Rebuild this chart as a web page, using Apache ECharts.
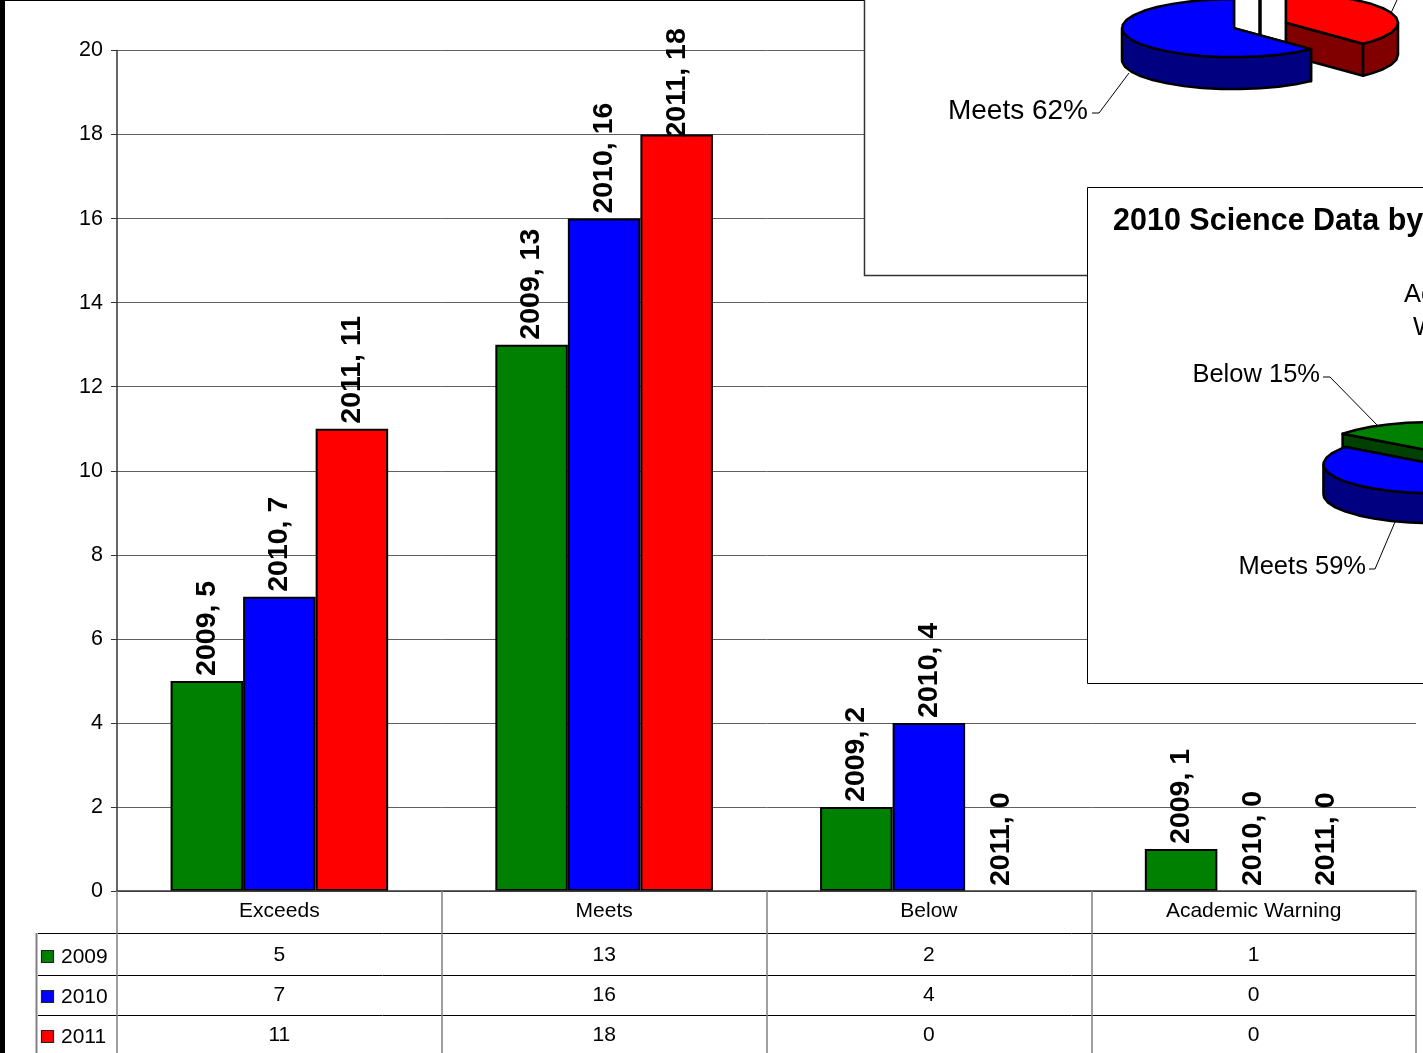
<!DOCTYPE html>
<html><head><meta charset="utf-8">
<script src="https://cdn.jsdelivr.net/npm/echarts@6/dist/echarts.min.js"></script>
<style>html,body{margin:0;padding:0;background:#fff;overflow:hidden}#c{width:1423px;height:1053px}</style>
</head><body><div id="c"></div>
<script>
const categories = ['Exceeds','Meets','Below','Academic Warning'];
const values2009 = [5,13,2,1];
const values2010 = [7,16,4,0];
const values2011 = [11,18,0,0];
const yearNames = ['2009','2010','2011'];
const yearColors = ['#008000','#0000FF','#FF0000'];
const tableRows = [values2009,values2010,values2011];
const pieColors = ['#FF0000','#0000FF','#008000','#FFFF00'];
const pieDark = ['#800000','#000080','#004000','#808000'];

const FONT = '"Liberation Sans", Arial, sans-serif';
const G = {left:117,right:1416,top:50.5,bottom:891};

function slicesOf(values){
  const total = values.reduce((a,b)=>a+b,0);
  let acc = 0;
  return values.map(v=>{
    const s = acc/total*360; acc += v; const e = acc/total*360;
    return {v,s,e,mid:(s+e)/2,pct:Math.round(v/total*100)};
  });
}
function pieSeries(cfg, z){
  const sl = slicesOf(cfg.values);
  const rad = d=>d*Math.PI/180;
  return {
    type:'custom', coordinateSystem:'none', silent:true, z, animation:false,
    data: cfg.values.map(v=>[v]),
    renderItem(params, api){
      const i = params.dataIndex; const v = api.value(0); const q = sl[i];
      const cx = cfg.cx + Math.sin(rad(q.mid))*cfg.explode*cfg.rx;
      const cy = cfg.cy - Math.cos(rad(q.mid))*cfg.explode*cfg.ry;
      const P = (d,dz=0)=>[cx+Math.sin(rad(d))*cfg.rx, cy-Math.cos(rad(d))*cfg.ry+dz];
      const A = (dz=0)=>[cx,cy+dz];
      const kids = [];
      const depth = v===0 ? -100 : -Math.cos(rad(q.mid))*100;
      const poly = (points,fill,lw=2.5)=>kids.push({type:'polygon',z2:depth,shape:{points},style:{fill,stroke:'#000',lineWidth:lw,lineJoin:'round'}});
      const th = cfg.thick;
      if(v===0){
        poly([A(),P(q.s),P(q.s,th),A(th)],'#000',3);
      } else {
        poly([A(),P(q.s),P(q.s,th),A(th)],pieDark[i]);
        poly([A(),P(q.e),P(q.e,th),A(th)],pieDark[i]);
        const a = Math.max(q.s,90), b = Math.min(q.e,270);
        if(b>a){
          const up=[],dn=[];
          for(let d=a;d<b;d+=10){up.push(P(d));dn.unshift(P(d,th));}
          up.push(P(b));dn.unshift(P(b,th));
          poly(up.concat(dn),pieDark[i]);
        }
        const top=[A()];
        for(let d=q.s;d<q.e;d+=10) top.push(P(d));
        top.push(P(q.e));
        poly(top,pieColors[i]);
      }
      const lab = cfg.labels[i];
      if(lab){
        if(lab.leader) kids.push({type:'polyline',z2:depth+1,shape:{points:lab.leader},style:{fill:null,stroke:'#000',lineWidth:1}});
        if(lab.text) kids.push({type:'text',z2:depth+1,style:{x:lab.x,y:lab.y,text:lab.text(q.pct),font:cfg.fontSize+'px '+FONT,align:lab.align,verticalAlign:'middle',lineHeight:33,fill:'#000'}});
      }
      return {type:'group',children:kids};
    }
  };
}
const pie2011 = {values:values2011,cx:1260,cy:25.4,rx:112,ry:29,thick:32,explode:0.25,fontSize:28,labels:[
  {leader:[[1391,13],[1397,0]]},
  {x:1088,y:111,align:'right',text:p=>'Meets '+p+'%',leader:[[1092,113],[1099,113],[1129,73]]},
  null,null]};
const pie2010 = {values:values2010,cx:1445,cy:457.5,rx:112,ry:29,thick:30,explode:0.25,fontSize:25.5,labels:[
  null,
  {x:1366,y:567,align:'right',text:p=>'Meets '+p+'%',leader:[[1369,569],[1375,569],[1395,522]]},
  {x:1320,y:375,align:'right',text:p=>'Below '+p+'%',leader:[[1323,377],[1330,377],[1379,427]]},
  {x:1460,y:311,align:'center',text:p=>'Academic\nWarning'}]};

const LABEL_GAP = 8, LABEL_GAP_TALLEST = 0;
const barSeries = yearNames.map((n,k)=>({
  name:n,type:'bar',barGap:0,barCategoryGap:'33%',z:2,
  data:tableRows[k].map(v=>({
    value:v,
    itemStyle:v===0?{borderWidth:0}:undefined,
    label:v===18?{distance:LABEL_GAP_TALLEST}:undefined
  })),
  itemStyle:{color:yearColors[k],borderColor:'#000',borderWidth:2},
  label:{show:true,position:'top',distance:LABEL_GAP,rotate:90,align:'left',verticalAlign:'middle',offset:[-3,0],
    formatter:'{a}, {c}',fontFamily:FONT,fontWeight:'bold',fontSize:28.5,color:'#000'}
}));

const chart = echarts.init(document.getElementById('c'),null,{renderer:'canvas'});
const g = [];
const line=(x1,y1,x2,y2,stroke,lw=1,z=3)=>g.push({type:'line',z,silent:true,shape:{x1,y1,x2,y2},style:{stroke,lineWidth:lw}});
const txt=(x,y,text,size,align='center',weight='normal',z=3)=>g.push({type:'text',z,silent:true,style:{x,y,text,font:weight+' '+size+'px '+FONT,align,verticalAlign:'middle',fill:'#000'}});
// edge bands of the screenshot
g.push({type:'rect',z:20,silent:true,shape:{x:0,y:0,width:5,height:1053},style:{fill:'#000'}});
g.push({type:'rect',z:20,silent:true,shape:{x:0,y:0,width:864,height:1},style:{fill:'#000'}});
// panels
g.push({type:'rect',z:5,silent:true,shape:{x:864.5,y:-3,width:600,height:278.5},style:{fill:'#fff',stroke:'#333',lineWidth:1.5}});
g.push({type:'rect',z:7,silent:true,shape:{x:1087.5,y:187.5,width:400,height:496},style:{fill:'#fff',stroke:'#000',lineWidth:1}});
txt(1113,222,'2010 Science Data by',30.5,'left','bold',7);
// data table
const rowLines=[933.5,975.5,1015.5];
rowLines.forEach(y=>line(38,y,G.right,y,'#000',1));
line(36.5,933,36.5,1053,'#808080',2);
const catW=(G.right-G.left)/categories.length;
tableRows.forEach((row,r)=>{
  const yv=[955.5,995.5,1035][r], yl=[957,997,1037][r];
  g.push({type:'rect',z:3,silent:true,shape:{x:41.5,y:yl-6.5,width:12,height:12},style:{fill:yearColors[r],stroke:'#222',lineWidth:1.2}});
  txt(61,yl,yearNames[r],21,'left');
  row.forEach((v,c)=>txt(G.left+catW*(c+0.5),yv,String(v),21));
});
chart.setOption({
  animation:false,backgroundColor:'#fff',
  grid:{left:G.left,top:G.top,width:G.right-G.left,height:G.bottom-G.top,containLabel:false},
  xAxis:{type:'category',data:categories,boundaryGap:true,z:4,
    axisLine:{lineStyle:{color:'#333',width:1.5}},
    axisTick:{show:true,length:162,alignWithLabel:false,lineStyle:{color:'#808080',width:1.5}},
    axisLabel:{margin:10,fontFamily:FONT,fontSize:21,color:'#000',interval:0},splitLine:{show:false}},
  yAxis:{type:'value',min:0,max:20,interval:2,
    axisLine:{show:true,lineStyle:{color:'#333',width:1.5}},
    axisTick:{show:true,length:6,lineStyle:{color:'#333'}},
    axisLabel:{margin:14,fontFamily:FONT,fontSize:21.5,color:'#000',padding:[2,0,0,0]},
    splitLine:{show:true,lineStyle:{color:'#606060',width:1}}},
  series:[...barSeries,pieSeries(pie2011,6),pieSeries(pie2010,8)],
  graphic:{elements:g}
});
</script></body></html>
